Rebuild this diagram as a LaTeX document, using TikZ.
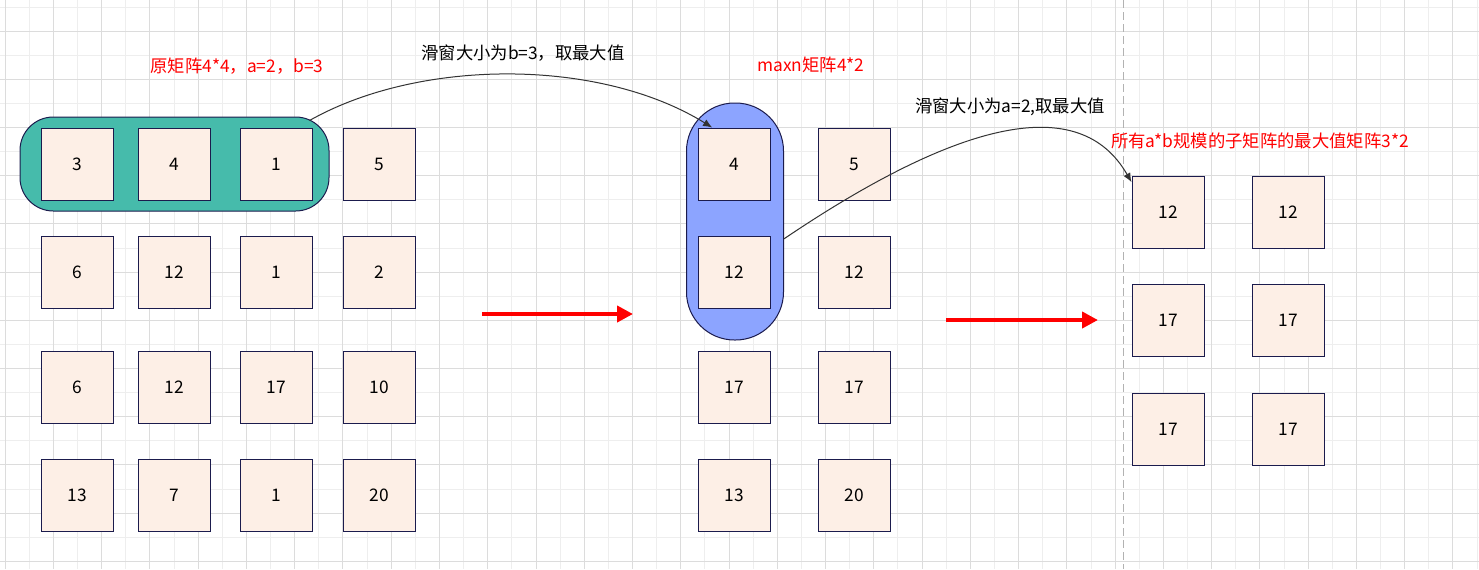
\documentclass[tikz,border=0pt]{standalone}
\usepackage{fontspec}
\setmainfont{Noto Sans CJK SC}
\usetikzlibrary{arrows.meta}
\definecolor{cellfill}{HTML}{FDEFE6}
\definecolor{cellline}{HTML}{1B1B4D}
\definecolor{winteal}{HTML}{46BBAB}
\definecolor{winblue}{HTML}{8CA4FF}
\definecolor{gridlight}{HTML}{EEEEEE}
\definecolor{griddark}{HTML}{DCDCDC}
\definecolor{labelred}{HTML}{FF0000}
\tikzset{
cell/.style={draw=cellline,fill=cellfill,line width=.75pt,minimum size=54pt,inner sep=0pt,font=\fontsize{13}{15}\selectfont},
window/.style={draw=cellline,line width=.75pt,inner sep=0pt},
lbl/.style={inner sep=0pt,font=\fontsize{13}{15}\selectfont},
redlbl/.style={lbl,text=labelred},
arrow/.style={-{Latex[length=2.4mm,width=2mm]},line width=.75pt,draw=black!80},
bigarrow/.style={-{Triangle[length=12pt,width=12pt]},line width=3.5pt,draw=red},
gridminor/.style={draw=gridlight,line width=.75pt},
gridmajor/.style={draw=griddark,line width=.75pt}
}
\begin{document}
\begin{tikzpicture}[x=.75pt,y=-.75pt]
\useasboundingbox (0,0) rectangle (1479,569);
\fill[white] (0,0) rectangle (1479,569);
% background grid
\foreach \i in {0,...,61} \draw[gridminor] ({5.17+24.13*\i},0) -- ({5.17+24.13*\i},569);
\foreach \j in {0,...,23} \draw[gridminor] (0,{7+24.1*\j}) -- (1479,{7+24.1*\j});
\foreach \i in {0,2,...,60} \draw[gridmajor] ({5.17+24.13*\i},0) -- ({5.17+24.13*\i},569);
\foreach \j in {1,3,...,23} \draw[gridmajor] (0,{7+24.1*\j}) -- (1479,{7+24.1*\j});
\draw[draw=black!30,line width=.75pt,dash pattern=on 6pt off 3pt] (1123,0) -- (1123,569);

% sliding windows
\node[window,fill=winteal,rounded corners=25pt,minimum width=231.75pt,minimum height=70.5pt] (rowwin) at (174.5,164) {};
\node[window,fill=winblue,rounded corners=36pt,minimum width=72.75pt,minimum height=177.75pt] (colwin) at (735,221.5) {};

% original matrix 4*4
\node[cell] (a11) at (77.5,164) {3};
\node[cell] (a12) at (174,164) {4};
\node[cell] (a13) at (276,164) {1};
\node[cell] (a14) at (379,164) {5};
\node[cell] (a21) at (77.5,272) {6};
\node[cell] (a22) at (174,272) {12};
\node[cell] (a23) at (276,272) {1};
\node[cell] (a24) at (379,272) {2};
\node[cell] (a31) at (77.5,387) {6};
\node[cell] (a32) at (174,387) {12};
\node[cell] (a33) at (276,387) {17};
\node[cell] (a34) at (379,387) {10};
\node[cell] (a41) at (77.5,495) {13};
\node[cell] (a42) at (174,495) {7};
\node[cell] (a43) at (276,495) {1};
\node[cell] (a44) at (379,495) {20};

% maxn matrix 4*2
\node[cell] (m11) at (734,164) {4};
\node[cell] (m12) at (854,164) {5};
\node[cell] (m21) at (734,272) {12};
\node[cell] (m22) at (854,272) {12};
\node[cell] (m31) at (734,387) {17};
\node[cell] (m32) at (854,387) {17};
\node[cell] (m41) at (734,495) {13};
\node[cell] (m42) at (854,495) {20};

% result matrix 3*2
\node[cell] (r11) at (1168,212) {12};
\node[cell] (r12) at (1288,212) {12};
\node[cell] (r21) at (1168,320) {17};
\node[cell] (r22) at (1288,320) {17};
\node[cell] (r31) at (1168,429) {17};
\node[cell] (r32) at (1288,429) {17};

% labels
\node[redlbl] (origlbl) at (237,66) {原矩阵4*4，a=2，b=3};
\node[lbl] (rowlbl) at (523,53) {滑窗大小为b=3，取最大值};
\node[redlbl] (maxnlbl) at (811,65) {maxn矩阵4*2};
\node[lbl] (collbl) at (1010,107) {滑窗大小为a=2,取最大值};
\node[redlbl] (reslbl) at (1260,141) {所有a*b规模的子矩阵的最大值矩阵3*2};

% connectors
\draw[arrow] ([xshift=-15pt,yshift=-3pt]rowwin.north east) .. controls (420,58) and (600,58) .. ([xshift=11pt]m11.north west);
\draw[arrow] ([yshift=-13pt]colwin.east) .. controls (960,120) and (1080,92) .. ([yshift=-5pt]r11.north west);

\coordinate (go1s) at (482,314);
\coordinate (go1e) at (633,314);
\coordinate (go2s) at (946,320);
\coordinate (go2e) at (1098,320);
\draw[bigarrow] (go1s) -- (go1e);
\draw[bigarrow] (go2s) -- (go2e);
\end{tikzpicture}
\end{document}
